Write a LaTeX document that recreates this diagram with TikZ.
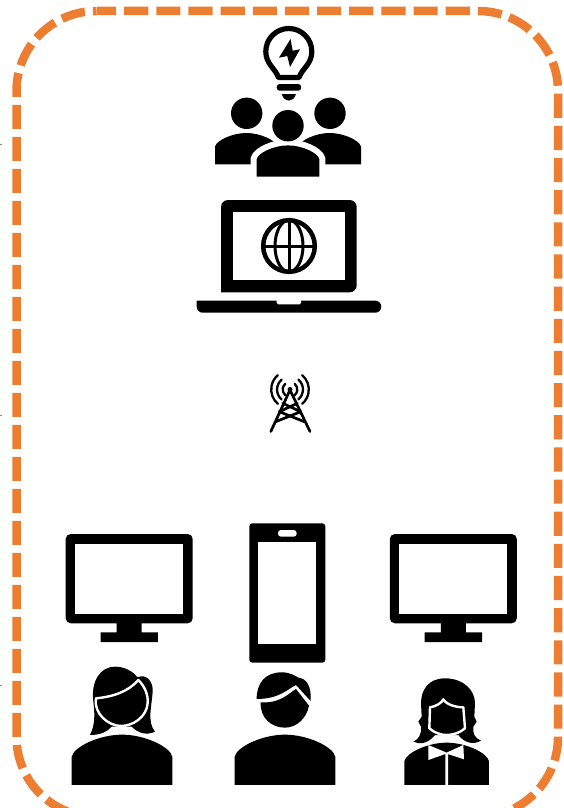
\documentclass[tikz,border=0pt]{standalone}
\usepackage{xcolor}
\usetikzlibrary{calc}
\definecolor{borderorange}{HTML}{ED7D31}
\definecolor{tickgray}{HTML}{8A8A8A}
\newcommand{\bodypath}{(-1,0) -- (-1,-.56) .. controls (-.96,-.76) and (-.45,-1) .. (0,-1)
  .. controls (.45,-1) and (.96,-.76) .. (1,-.56) -- (1,0) -- cycle}
\tikzset{
  borderline/.style={draw=borderorange, line width=8.5pt},
  solid black/.style={fill=black, draw=none},
  screenface/.style={fill=white, draw=none},
  halo/.style={preaction={draw=white, line width=#1}},
  faceline/.style={fill=black, draw=white, line width=2.4pt, line join=round},
  towerline/.style={draw=black, line width=2.7pt, line cap=round, line join=round},
  waveline/.style={draw=black, line width=2.3pt, line cap=round},
  globeline/.style={draw=black, line width=3pt},
  monitor/.pic={
    \fill[solid black, rounded corners=5pt] (-63.5,0) rectangle (63.5,89.3);
    \fill[solid black] (-12.5,89) rectangle (12.5,99) (-28.7,98.3) rectangle (28.7,108);
    \fill[screenface] (-53.9,9.7) rectangle (53.8,79.7);
  },
  bodyshape/.pic={
    \fill[solid black] \bodypath;
  },
  pics/halobody/.style={code={
    \fill[solid black, halo=#1] \bodypath;
  }}
}

\begin{document}
\begin{tikzpicture}[x=1pt, y=-1pt]
  \useasboundingbox (0,0) rectangle (564,808);
  \draw[borderline, dash pattern=on 24.15pt off 8pt, dash phase=4.5pt] (96.5,11) -- (478,11) arc (-90:0:80) -- (558,737) arc (0:90:80) -- (287,817);
  \draw[borderline, dash pattern=on 24pt off 8pt, dash phase=3.8pt] (287,817) -- (96.5,817) arc (90:180:80) -- (16.5,91) arc (180:270:80);
  \foreach \ticky in {144,415,685}
    \draw[tickgray, line width=.6pt] (0,\ticky) -- (1.5,\ticky);

  % lightbulb
  \draw[line width=5.2pt, line join=round] (278.5,77.5) .. controls (275,68) and (265.8,64) .. (265.8,51.5)
    arc (180:360:23) .. controls (311.8,64) and (302.5,68) .. (299,77.5) -- cycle;
  \fill[solid black, rounded corners=3pt] (276.7,84) rectangle (301.2,90.7);
  \fill[solid black] (281.7,94) -- (296,94) .. controls (294.5,98.5) and (292,100.7) .. (288.8,100.7)
    .. controls (285.6,100.7) and (283.2,98.5) .. (281.7,94) -- cycle;
  \fill[solid black] (290.5,39) -- (279,57.7) -- (287.3,56) -- (290,67) -- (300,49.3) -- (292.7,50.7) -- cycle;

  % group of people
  \fill[solid black] (246.7,113.3) circle (15.7) (330,113.3) circle (15.7);
  \pic[scale=31.3] at (246.3,164.3) {bodyshape};
  \pic[scale=31.3] at (329.7,164.3) {bodyshape};
  \pic[scale=31.3] at (288,176.7) {halobody=12pt};
  \fill[solid black, halo=5pt] (288,125.7) circle (15.7);

  % laptop with globe
  \fill[solid black, rounded corners=7pt] (221,292.3) -- (221,200) -- (356.7,200) -- (356.7,292.3) [sharp corners] -- cycle;
  \fill[screenface] (233.3,212.3) rectangle (345,280);
  \fill[solid black, rounded corners=6pt] (196.7,300.7) -- (196.7,312.7) -- (381.3,312.7) -- (381.3,300.7) [sharp corners] -- cycle;
  \fill[screenface, rounded corners=1.5pt] (276.7,299) -- (276.7,304.3) -- (301,304.3) -- (301,299) -- cycle;
  \draw[line width=4.5pt] (289,246) circle (25.8);
  \draw[globeline] (289,246) ellipse (14 and 25.8);
  \draw[globeline] (289,220) -- (289,272) (263,246) -- (315,246);

  % radio tower
  \draw[towerline] (270.8,431.5) -- (290,390) -- (310,431.5);
  \draw[towerline] (282.7,403.3) -- (300.7,411.7) -- (275.7,421.7);
  \draw[towerline] (297.3,403.3) -- (279.3,411.7) -- (304.3,421.7);
  \fill[solid black] (290,389.5) circle (2.5);
  \foreach \waverad in {7.3,13,18.8} {
    \draw[waveline] ($(290,389.5)+(130:\waverad)$) arc (130:230:\waverad);
    \draw[waveline] ($(290,389.5)+(-50:\waverad)$) arc (-50:50:\waverad);
  }

  % screens
  \pic at (129.2,534) {monitor};
  \pic at (453.3,534) {monitor};
  \fill[solid black, rounded corners=3pt] (249.3,523.3) rectangle (325.3,662.7);
  \fill[screenface] (258.3,542) rectangle (316,643.7);
  \fill[screenface, rounded corners=3pt] (278,530) rectangle (296.7,536.7);

  % woman with ponytail
  \begin{scope}[shift={(50,515)}, x=.3333pt, y=-.3333pt]
    \pic[scale=151] at (216,810) {bodyshape};
    \fill[solid black] (120,660) .. controls (135,630) and (135,600) .. (130,560) .. controls (122,500) and (150,455) .. (195,455)
      .. controls (225,455) and (250,470) .. (262,487) .. controls (290,475) and (310,500) .. (308,530)
      .. controls (306,570) and (290,620) .. (315,650) .. controls (290,662) and (265,655) .. (245,635)
      -- (185,635) .. controls (170,652) and (150,660) .. (120,660) -- cycle;
    \path[faceline] (138,550) .. controls (190,545) and (235,530) .. (265,495) .. controls (285,515) and (295,540) .. (293,565)
      .. controls (290,605) and (250,633) .. (213,633) .. controls (175,633) and (130,595) .. (138,550) -- cycle;
  \end{scope}

  % man
  \begin{scope}[shift={(50,515)}, x=.3333pt, y=-.3333pt]
    \pic[scale=151] at (705,810) {bodyshape};
    \fill[solid black] (620,552) .. controls (620,505) and (645,472) .. (695,472) .. controls (720,472) and (735,482) .. (745,488)
      .. controls (770,490) and (785,515) .. (782,558) -- (738,510) .. controls (715,520) and (690,552) .. (620,552) -- cycle;
    \fill[solid black] (632,562) .. controls (690,565) and (710,540) .. (738,522) -- (777,572)
      .. controls (770,610) and (740,638) .. (705,638) .. controls (665,638) and (630,610) .. (632,562) -- cycle;
  \end{scope}

  % woman with bow
  \begin{scope}[shift={(395,670)}, x=.3333pt, y=-.3333pt]
    \fill[solid black] (150,25) .. controls (100,25) and (78,60) .. (78,100) -- (80,140) -- (70,155) -- (78,170)
      .. controls (80,195) and (70,208) .. (55,215) .. controls (75,225) and (100,220) .. (120,195) -- (190,195)
      .. controls (210,220) and (235,225) .. (258,212) .. controls (240,205) and (232,190) .. (235,170)
      -- (245,155) -- (238,140) -- (240,100) .. controls (240,60) and (205,25) .. (150,25) -- cycle;
    \path[faceline] (145,88) .. controls (140,100) and (120,110) .. (105,112) -- (103,175)
      .. controls (120,190) and (140,195) .. (155,195) .. controls (175,195) and (195,188) .. (210,175) -- (205,112)
      .. controls (185,112) and (155,105) .. (145,88) -- cycle;
    \pic[scale=127] at (155,345) {halobody=4pt};
    \fill[screenface] (100,225) -- (155,248) -- (205,225) -- (207,268) -- (159,252) -- (159,345) -- (151,345) -- (151,252) -- (100,270) -- cycle;
  \end{scope}
\end{tikzpicture}
\end{document}
